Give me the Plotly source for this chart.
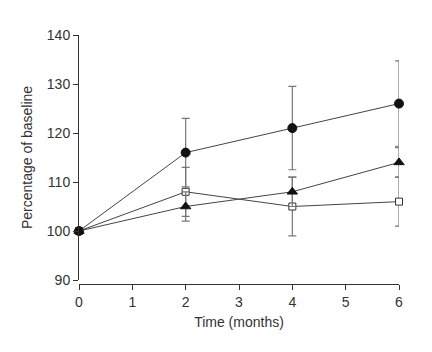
import plotly.graph_objects as go

months = [0, 2, 4, 6]
circle_vals = [100, 116, 121, 126]
circle_err = [0, 7, 8.5, 8.7]
triangle_vals = [100, 105, 108, 114]
triangle_err = [0, 3, 3, 3]
square_vals = [100, 108, 105, 106]
square_err = [0, 5, 6, 5]

x_ticks = [0, 1, 2, 3, 4, 5, 6]
y_ticks = [90, 100, 110, 120, 130, 140]

fig = go.Figure()

def add_series(y, err, symbol, size, fill, edge):
    fig.add_trace(go.Scatter(
        x=months, y=y, mode="lines+markers",
        line=dict(color="#444444", width=1),
        marker=dict(symbol=symbol, size=size, color=fill,
                    line=dict(color=edge, width=1)),
        error_y=dict(type="data", array=err, visible=True,
                     color="#777777", thickness=1.2, width=4),
        cliponaxis=False, showlegend=False,
    ))

add_series(square_vals, square_err, "square", 7, "white", "#333333")
add_series(circle_vals, circle_err, "circle", 9, "#111111", "#111111")
add_series(triangle_vals, triangle_err, "triangle-up", 9, "#111111", "#111111")

axis_font = dict(family="Liberation Sans, Arial, sans-serif", size=14, color="#333333")

fig.update_layout(
    width=432, height=352,
    margin=dict(l=79, r=33, t=35, b=68),
    plot_bgcolor="white", paper_bgcolor="white",
    font=axis_font,
    xaxis=dict(
        range=[0, 6], tickvals=x_ticks, ticks="outside", ticklen=5,
        tickcolor="#333333", showline=True, linecolor="#333333", linewidth=1,
        showgrid=False, zeroline=False, anchor="free", position=0,
        title=dict(text="Time (months)", font=axis_font, standoff=8),
        tickfont=axis_font,
    ),
    yaxis=dict(
        range=[90, 140], tickvals=y_ticks, ticks="outside", ticklen=5,
        tickcolor="#333333", showline=True, linecolor="#333333", linewidth=1,
        showgrid=False, zeroline=False, domain=[0.016, 1],
        title=dict(text="Percentage of baseline", font=axis_font, standoff=10),
        tickfont=axis_font,
    ),
)

fig.write_html("out.html")
